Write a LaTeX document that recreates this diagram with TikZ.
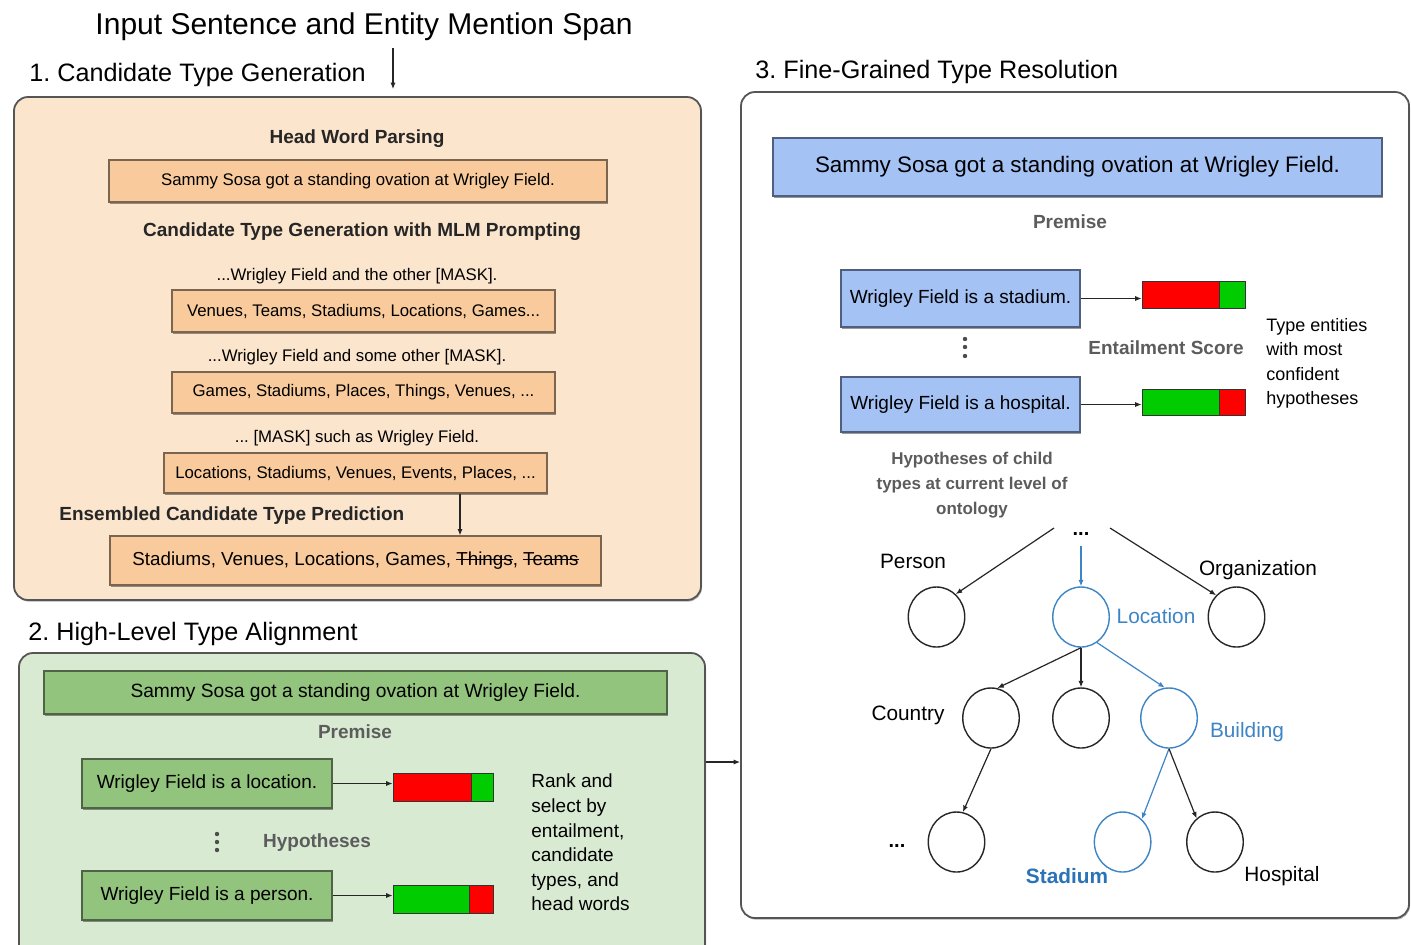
\documentclass[tikz,border=0pt]{standalone}
\usepackage{fontspec}
\setmainfont{Liberation Sans}
\usetikzlibrary{arrows.meta,fit,shapes.geometric,shadows}
\frenchspacing

% struck-through word
\newcommand{\strk}[1]{\setbox0\hbox{#1}\rlap{\raisebox{0.3em}{\rule{\wd0}{0.55pt}}}\box0}

\definecolor{opan}{HTML}{FCE5CD}
\definecolor{obx}{HTML}{F9CB9C}
\definecolor{gpan}{HTML}{D9EAD3}
\definecolor{gbx}{HTML}{93C47D}
\definecolor{bbx}{HTML}{A4C2F4}
\definecolor{panline}{HTML}{555555}
\definecolor{oline}{HTML}{7A6650}
\definecolor{gline}{HTML}{4F6446}
\definecolor{bline}{HTML}{4F5F7F}
\definecolor{lbl}{HTML}{5C5C5C}
\definecolor{tblue}{HTML}{3D85C6}
\definecolor{sblue}{HTML}{2A73B8}
\definecolor{sred}{HTML}{FF0000}
\definecolor{sgreen}{HTML}{00CC00}

\begin{document}
\begin{tikzpicture}[x=0.5pt,y=-0.5pt,
  panel/.style={draw=panline, line width=0.9pt, rounded corners=7pt, inner sep=0pt,
    drop shadow={shadow xshift=0.5pt, shadow yshift=-0.8pt, fill=black, opacity=0.3}},
  boxbase/.style={line width=0.6pt, inner sep=0pt,
    drop shadow={shadow xshift=0.3pt, shadow yshift=-0.8pt, fill=black, opacity=0.4}},
  obox/.style={boxbase, draw=oline, fill=obx},
  gbox/.style={boxbase, draw=gline, fill=gbx},
  bbox/.style={boxbase, draw=bline, fill=bbx},
  otext/.style={inner sep=0pt, font=\fontsize{8.4}{10}\selectfont},
  htext/.style={inner sep=0pt, font=\fontsize{9.5}{11}\selectfont},
  sect/.style={inner sep=0pt, font=\fontsize{12.6}{15}\selectfont},
  btitle/.style={inner sep=0pt, font=\bfseries\fontsize{9.5}{11}\selectfont, text=black!85},
  prompt/.style={inner sep=0pt, font=\fontsize{8.4}{10}\selectfont},
  glabel/.style={inner sep=0pt, font=\bfseries\fontsize{9.5}{11}\selectfont, text=lbl},
  note/.style={inner sep=0pt, align=left},
  tlabel/.style={inner sep=0pt, font=\fontsize{10.4}{12}\selectfont},
  tnode/.style={ellipse, draw=black!85, line width=0.7pt, minimum width=28.25pt,
    minimum height=30pt, inner sep=0pt},
  bnode/.style={tnode, draw=tblue},
  seg/.style={draw=black!80, line width=0.4pt, inner sep=0pt},
  arr/.style={-{Latex[length=3.2pt,width=2.6pt]}, line width=0.6pt, draw=black!85},
  barr/.style={arr, draw=tblue, -{Latex[length=3.2pt,width=2.6pt]}}]

\useasboundingbox (0,0) rectangle (1411,944);
\clip (0,0) rectangle (1411,944);

% ---------- headings ----------
\node[inner sep=0pt, font=\fontsize{15}{18}\selectfont] (title) at (364,27)
  {Input Sentence and Entity Mention Span};
\node[sect, anchor=west] (s1) at (29,75) {1. Candidate Type Generation};
\node[sect, anchor=west] (s2) at (28,634) {2. High-Level Type Alignment};
\node[sect, anchor=west] (s3) at (755,72) {3. Fine-Grained Type Resolution};

% ---------- 1. candidate type generation ----------
\node[panel, fill=opan, fit={(14,97)(701,600)}] (op) {};
\coordinate (tin) at (393,48);
\draw[arr, shorten >=3.5pt] (tin) -- (tin |- op.north);

\node[btitle] (hwp) at (357,139) {Head Word Parsing};
\node[obox, fit={(109,160)(607,202)}] (hw) {};
\node[otext] (hwt) at (hw.center) {Sammy Sosa got a standing ovation at Wrigley Field.};
\node[btitle] (mlm) at (362,232) {Candidate Type Generation with MLM Prompting};
\node[prompt] (p1) at (357,276) {...Wrigley Field and the other [MASK].};
\node[obox, fit={(172,290)(555,332)}] (c1) {};
\node[otext] (c1t) at (c1.center) {Venues, Teams, Stadiums, Locations, Games...};
\node[prompt] (p2) at (357,357) {...Wrigley Field and some other [MASK].};
\node[obox, fit={(172,372)(555,413)}] (c2) {};
\node[otext] (c2t) at (c2.center) {Games, Stadiums, Places, Things, Venues, ...};
\node[prompt] (p3) at (357,438) {... [MASK] such as Wrigley Field.};
\node[obox, fit={(164,453)(547,493)}] (c3) {};
\node[otext] (c3t) at (c3.center) {Locations, Stadiums, Venues, Events, Places, ...};
\node[btitle, anchor=west] (ens) at (59,516) {Ensembled Candidate Type Prediction};
\node[obox, fit={(110,536)(601,585)}] (fin) {};
\node[otext, font=\fontsize{9.4}{11}\selectfont] (fint) at (fin.center)
  {Stadiums, Venues, Locations, Games, \strk{Things}, \strk{Teams}};
\coordinate (ax) at (460,0);
\draw[arr] (c3.south -| ax) -- (fin.north -| ax);

% ---------- 2. high-level type alignment ----------
\node[panel, fill=gpan, fit={(19,653)(705,985)}] (gp) {};
\node[gbox, fit={(44,671)(667,714)}] (gprem) {};
\node[htext, font=\fontsize{9.6}{11}\selectfont] (gpremt) at (gprem.center)
  {Sammy Sosa got a standing ovation at Wrigley Field.};
\node[glabel] (gpl) at (355,732) {Premise};
\node[gbox, fit={(82,759)(332,808)}] (gh1) {};
\node[htext] (gh1t) at (gh1.center) {Wrigley Field is a location.};
\node[gbox, fit={(82,871)(332,920)}] (gh2) {};
\node[htext] (gh2t) at (gh2.center) {Wrigley Field is a person.};
\node[seg, fill=sred, fit={(393,773)(471,801)}] (g1a) {};
\node[seg, fill=sgreen, fit={(471,773)(493,801)}] (g1b) {};
\node[seg, fill=sgreen, fit={(393,885)(469,913)}] (g2a) {};
\node[seg, fill=sred, fit={(469,885)(493,913)}] (g2b) {};
\draw[arr] (gh1.east) -- (gh1.east -| g1a.west);
\draw[arr] (gh2.east) -- (gh2.east -| g2a.west);
\foreach \yy in {834,842,850} \fill[black!70] (217,\yy) circle (1.1pt);
\node[glabel] (hyp) at (317,843) {Hypotheses};
\node[note, anchor=west, font=\fontsize{9.5}{12.3}\selectfont] (rank) at (531,842.5)
  {Rank and\\select by\\entailment,\\candidate\\types, and\\head words};

% ---------- 3. fine-grained type resolution ----------
\node[panel, fill=white, fit={(741,92)(1409,918)}] (rp) {};
\coordinate (ay) at (0,762);
\draw[arr] (gp.east |- ay) -- (rp.west |- ay);

\node[bbox, fit={(773,138)(1382,196)}] (bprem) {};
\node[htext, font=\fontsize{11.2}{13}\selectfont] (bpremt) at (bprem.center)
  {Sammy Sosa got a standing ovation at Wrigley Field.};
\node[glabel] (bpl) at (1070,222) {Premise};
\node[bbox, fit={(841,270)(1080,327)}] (bh1) {};
\node[htext] (bh1t) at (bh1.center) {Wrigley Field is a stadium.};
\node[bbox, fit={(841,377)(1080,432)}] (bh2) {};
\node[htext] (bh2t) at (bh2.center) {Wrigley Field is a hospital.};
\node[seg, fill=sred, fit={(1142,281)(1219,308)}] (b1a) {};
\node[seg, fill=sgreen, fit={(1219,281)(1245,308)}] (b1b) {};
\node[seg, fill=sgreen, fit={(1142,389)(1219,415)}] (b2a) {};
\node[seg, fill=sred, fit={(1219,389)(1245,415)}] (b2b) {};
\draw[arr] (bh1.east) -- (bh1.east -| b1a.west);
\draw[arr] (bh2.east) -- (bh2.east -| b2a.west);
\foreach \yy in {339,347,356} \fill[black!70] (965,\yy) circle (1.1pt);
\node[glabel, anchor=west] (ent) at (1088,348) {Entailment Score};
\node[note, anchor=west, font=\fontsize{9}{12.2}\selectfont] (conf) at (1266,363.5)
  {Type entities\\with most\\confident\\hypotheses};
\node[glabel, align=center, font=\bfseries\fontsize{8.5}{12.5}\selectfont] (hch) at (972,485)
  {Hypotheses of child\\types at current level of\\ontology};

% ontology tree
\node[inner sep=0pt, font=\bfseries\fontsize{10}{12}\selectfont] (tdots) at (1081,534) {...};
\coordinate (tl) at (1054,528);
\coordinate (tr) at (1110,528);

\node[tnode] (per) at (936.5,617) {};
\node[bnode] (loc) at (1081,617) {};
\node[tnode] (org) at (1236.5,617) {};
\node[tnode] (cty) at (991,718) {};
\node[tnode] (mid) at (1081,718) {};
\node[bnode] (bld) at (1169,718) {};
\node[tnode] (dl) at (956.5,842) {};
\node[bnode] (std) at (1122.6,842) {};
\node[tnode] (hos) at (1215,842) {};

\node[tlabel] (lper) at (913,561) {Person};
\node[tlabel, text=tblue] (lloc) at (1156,616) {Location};
\node[tlabel] (lorg) at (1258,570) {Organization};
\node[tlabel] (lcty) at (908,715) {Country};
\node[tlabel, text=tblue] (lbld) at (1247,732) {Building};
\node[tlabel, font=\bfseries\fontsize{10}{12}\selectfont] (ldl) at (897,846) {...};
\node[tlabel, text=sblue, font=\bfseries\fontsize{10.4}{12}\selectfont] (lstd) at (1067,876) {Stadium};
\node[tlabel] (lhos) at (1282,876) {Hospital};

\draw[arr] (tl) -- (per.50);
\draw[arr] (tr) -- (org.133);
\draw[barr, shorten <=5pt] (tdots.south) -- (loc.north);
\draw[arr] (loc.south) -- (cty.78);
\draw[arr] (loc.south) -- (mid.north);
\draw[barr] (loc.-58) -- (bld.98);
\draw[arr] (cty.south) -- (dl.78);
\draw[barr] (bld.south) -- (std.50);
\draw[arr] (bld.south) -- (hos.128);

\end{tikzpicture}
\end{document}
